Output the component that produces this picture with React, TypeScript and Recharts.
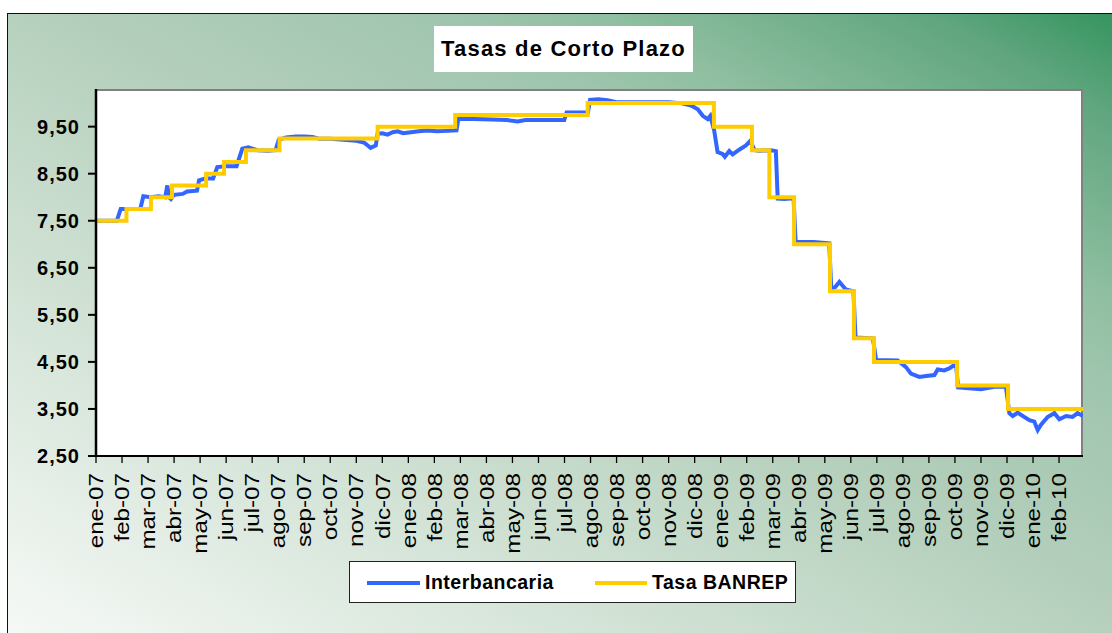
import { LineChart, Line, XAxis, YAxis } from "recharts";

const FONT = "Arial, 'Liberation Sans', sans-serif";

// x axis: one tick per month, 0 = ene-07
const monthLabels = [
  "ene-07", "feb-07", "mar-07", "abr-07", "may-07", "jun-07", "jul-07", "ago-07", "sep-07", "oct-07", "nov-07", "dic-07",
  "ene-08", "feb-08", "mar-08", "abr-08", "may-08", "jun-08", "jul-08", "ago-08", "sep-08", "oct-08", "nov-08", "dic-08",
  "ene-09", "feb-09", "mar-09", "abr-09", "may-09", "jun-09", "jul-09", "ago-09", "sep-09", "oct-09", "nov-09", "dic-09",
  "ene-10", "feb-10",
];
const monthTicks = monthLabels.map((_, i) => i);
const rateTicks = [2.5, 3.5, 4.5, 5.5, 6.5, 7.5, 8.5, 9.5];

// Interbancaria (position in months, rate %)
const interMonths = [
  0, 0.8, 0.95, 1.7, 1.82, 2.1, 2.4, 2.66, 2.74, 2.8, 2.88, 3.0, 3.33, 3.5, 3.88, 3.96, 4.2, 4.5, 4.66, 5.0,
  5.4, 5.62, 5.85, 6.2, 6.6, 6.9, 7.02, 7.3, 7.68, 8.0, 8.32, 8.6, 9.0, 9.5, 10.0, 10.3, 10.44, 10.55, 10.63, 10.75,
  10.82, 11.0, 11.2, 11.4, 11.59, 11.8, 12.1, 12.4, 12.74, 13.1, 13.51, 13.85, 13.92, 14.5, 15.2, 15.8, 16.2, 16.5, 17.2, 17.99,
  18.08, 18.6, 18.9, 18.98, 19.3, 19.65, 20.0, 21.0, 22.0, 22.47, 22.86, 23.12, 23.31, 23.5, 23.6, 23.75, 23.88, 24.07, 24.16, 24.33,
  24.46, 24.71, 24.97, 25.14, 25.3, 25.48, 25.93, 26.12, 26.19, 26.44, 26.8, 26.88, 27.58, 28.17, 28.25, 28.4, 28.56, 28.81, 29.1, 29.18,
  29.85, 29.97, 30.8, 31.12, 31.31, 31.63, 31.89, 32.21, 32.34, 32.59, 32.78, 32.97, 33.05, 33.12, 34.0, 34.51, 34.96, 35.09, 35.22, 35.41,
  35.66, 35.86, 36.05, 36.18, 36.3, 36.56, 36.82, 37.01, 37.27, 37.52, 37.71, 37.92,
];
const interRates = [
  7.5, 7.5, 7.75, 7.75, 8.02, 8.0, 8.02, 8.0, 8.25, 8.0, 7.96, 8.05, 8.07, 8.12, 8.14, 8.36, 8.4, 8.4, 8.64, 8.66,
  8.66, 9.03, 9.06, 9.0, 8.99, 9.0, 9.22, 9.27, 9.29, 9.29, 9.28, 9.24, 9.24, 9.22, 9.2, 9.16, 9.1, 9.05, 9.07, 9.1,
  9.35, 9.36, 9.33, 9.38, 9.4, 9.36, 9.38, 9.4, 9.42, 9.4, 9.41, 9.42, 9.66, 9.66, 9.65, 9.64, 9.61, 9.64, 9.64, 9.64,
  9.8, 9.8, 9.8, 10.07, 10.08, 10.06, 10.02, 10.02, 10.02, 10.0, 9.95, 9.87, 9.73, 9.66, 9.73, 9.42, 8.96, 8.92, 8.86, 8.98,
  8.91, 9.01, 9.1, 9.2, 9.0, 8.99, 9.0, 8.98, 7.97, 7.96, 7.98, 7.05, 7.05, 7.02, 6.05, 6.09, 6.2, 6.04, 6.0, 5.02,
  5.0, 4.54, 4.53, 4.39, 4.25, 4.18, 4.2, 4.22, 4.34, 4.32, 4.36, 4.43, 4.4, 3.96, 3.92, 3.97, 3.97, 3.41, 3.35, 3.42,
  3.33, 3.26, 3.23, 3.05, 3.16, 3.33, 3.41, 3.28, 3.35, 3.33, 3.41, 3.35,
];

// Tasa BANREP (change points)
const banrepMonths = [0, 1.17, 2.11, 2.92, 4.23, 4.92, 5.76, 7.05, 10.82, 13.8, 18.89, 23.74, 25.2, 25.87, 26.82, 28.2, 29.12, 29.89, 33.08, 35.04, 37.92];
const banrepRates = [7.5, 7.75, 8.0, 8.25, 8.5, 8.75, 9.0, 9.25, 9.5, 9.75, 10.0, 9.5, 9.0, 8.0, 7.0, 6.0, 5.0, 4.5, 4.0, 3.5, 3.5];

const interData = interMonths.map((m, i) => ({ m, v: interRates[i] }));
const banrepData = banrepMonths.map((m, i) => ({ m, v: banrepRates[i] }));

const BLUE = "#3366ff";
const YELLOW = "#ffcc00";

const MonthTick = (props: any) => {
  const { x, y, payload } = props;
  return (
    <g transform={`translate(${x},${y}) rotate(-90)`}>
      <text
        x={0}
        y={0}
        dy="0.36em"
        textAnchor="end"
        fontSize={20}
        fontFamily={FONT}
        fill="#000"
        transform="scale(1.21,1)"
      >
        {monthLabels[payload.value]}
      </text>
    </g>
  );
};

const abs = (left: number, top: number, width: number, height: number) => ({
  position: "absolute" as const,
  left,
  top,
  width,
  height,
  boxSizing: "border-box" as const,
});

const App = () => {
  return (
    <div style={{ fontFamily: FONT }}>
      <div
        style={{
          ...abs(7, 13, 1105, 620),
          background:
            "linear-gradient(to top right, #f6f9f6 0%, #c6dbcb 38%, #b4cfbc 52%, #9fc5ae 70%, #8fbfa0 77%, #5fa57e 92%, #35955f 100%)",
          borderTop: "1.5px solid #111",
          borderLeft: "1.5px solid #111",
        }}
      />
      <div
        style={{
          ...abs(96, 89, 987, 367),
          background: "#fff",
          borderTop: "2px solid #808080",
          borderRight: "2px solid #808080",
        }}
      />
      <div style={abs(0, 0, 1112, 633)}>
        <LineChart width={1112} height={633} margin={{ top: 89, right: 29, left: 0, bottom: 77 }}>
          <XAxis
            type="number"
            dataKey="m"
            domain={[0, 37.92]}
            allowDataOverflow
            ticks={monthTicks}
            interval={0}
            height={100}
            tick={<MonthTick />}
            tickSize={7}
            tickMargin={10}
            axisLine={{ stroke: "#000", strokeWidth: 2 }}
            tickLine={{ stroke: "#000", strokeWidth: 1.3 }}
          />
          <YAxis
            type="number"
            domain={[2.5, 10.3]}
            allowDataOverflow
            ticks={rateTicks}
            interval={0}
            width={96}
            tickSize={8}
            tickMargin={8}
            tickFormatter={(v: number) => v.toFixed(2).replace(".", ",")}
            tick={{ fontSize: 20, fontWeight: "bold", fill: "#000", fontFamily: FONT, letterSpacing: 1 }}
            axisLine={{ stroke: "#000", strokeWidth: 2.5 }}
            tickLine={{ stroke: "#000", strokeWidth: 2 }}
          />
          <Line
            data={interData}
            dataKey="v"
            name="Interbancaria"
            type="linear"
            stroke={BLUE}
            strokeWidth={4}
            dot={false}
            isAnimationActive={false}
          />
          <Line
            data={banrepData}
            dataKey="v"
            name="Tasa BANREP"
            type="stepAfter"
            stroke={YELLOW}
            strokeWidth={4}
            dot={false}
            isAnimationActive={false}
          />
        </LineChart>
      </div>
      <div
        style={{
          ...abs(434, 26, 259, 46),
          background: "#fff",
          display: "flex",
          alignItems: "center",
          justifyContent: "center",
          fontSize: 22,
          fontWeight: "bold",
          letterSpacing: 1.2,
          color: "#000",
        }}
      >
        Tasas de Corto Plazo
      </div>
      <div
        style={{
          ...abs(349, 561, 447, 42),
          background: "#fff",
          border: "1.5px solid #222",
          fontSize: 19.5,
          fontWeight: "bold",
          letterSpacing: 0.5,
          color: "#000",
        }}
      >
        <div style={{ position: "absolute", left: 17, top: 18.5, width: 53, height: 4, background: BLUE }} />
        <div style={{ position: "absolute", left: 75, top: 8, lineHeight: "24px" }}>Interbancaria</div>
        <div style={{ position: "absolute", left: 245, top: 18.5, width: 52, height: 4, background: YELLOW }} />
        <div style={{ position: "absolute", left: 302, top: 8, lineHeight: "24px" }}>Tasa BANREP</div>
      </div>
    </div>
  );
};

export default App;
